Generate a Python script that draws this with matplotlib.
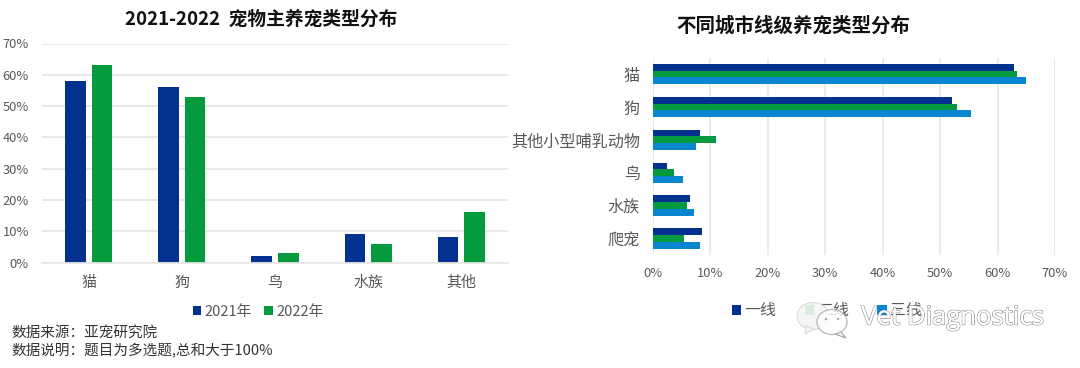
import matplotlib
matplotlib.use("Agg")
import matplotlib.pyplot as plt
import matplotlib.patheffects as pe
from matplotlib.patches import Ellipse, Polygon
import numpy as np

plt.rcParams['font.family'] = ['Noto Sans CJK SC', 'DejaVu Sans']

left_title = "2021-2022  宠物主养宠类型分布"
left_categories = ["猫", "狗", "鸟", "水族", "其他"]
left_2021 = [58, 56, 2, 9, 8]
left_2022 = [63, 53, 3, 6, 16]
left_labels = ["2021年", "2022年"]

right_title = "不同城市线级养宠类型分布"
right_categories = ["猫", "狗", "其他小型哺乳动物", "鸟", "水族", "爬宠"]
tier1 = [62.9, 52.0, 8.2, 2.5, 6.4, 8.6]
tier2 = [63.3, 53.0, 11.0, 3.7, 5.9, 5.4]
tier3 = [64.9, 55.4, 7.5, 5.2, 7.2, 8.2]
right_labels = ["一线", "二线", "三线"]

pct_ticks = [0, 10, 20, 30, 40, 50, 60, 70]
notes = ["数据来源：亚宠研究院", "数据说明：题目为多选题,总和大于100%"]
watermark = "Vet Diagnostics"

BLUE = "#03318f"
GREEN = "#059a3e"
CYAN = "#0a86d1"
GRID = "#e6e6e6"
TEXT = "#595959"
W, H = 1080, 368

fig = plt.figure(figsize=(W / 100, H / 100), dpi=100, facecolor="white")


def box(x0, y0, x1, y1):
    return [x0 / W, 1 - y1 / H, (x1 - x0) / W, (y1 - y0) / H]


def clean(ax):
    for s in ax.spines.values():
        s.set_visible(False)
    ax.set_axisbelow(True)
    ax.tick_params(length=0, labelcolor=TEXT)


def square_legend(fig, handles, labels, x, y, spacing, size):
    fig.legend(handles, labels, loc="center", bbox_to_anchor=(x / W, 1 - y / H),
               ncol=len(labels), frameon=False, fontsize=size, labelcolor=TEXT,
               handlelength=0.6, handleheight=0.6, handletextpad=0.2,
               columnspacing=spacing, borderpad=0)


# Left chart
ax1 = fig.add_axes(box(42, 43.5, 508, 262.5))
clean(ax1)
x = np.arange(len(left_categories))
b1 = ax1.bar(x - 0.143, left_2021, 0.222, color=BLUE)
b2 = ax1.bar(x + 0.143, left_2022, 0.222, color=GREEN)
ax1.set_xlim(-0.5, len(left_categories) - 0.5)
ax1.set_ylim(0, 70)
ax1.set_yticks(pct_ticks, [f"{v}%" for v in pct_ticks])
ax1.set_xticks(x, left_categories)
ax1.yaxis.grid(True, color=GRID, lw=1.3)
ax1.tick_params(axis="x", pad=9.5, labelsize=10.8)
ax1.tick_params(axis="y", pad=9.4, labelsize=9.3)
ax1.spines["bottom"].set_visible(True)
ax1.spines["bottom"].set_color(GRID)
ax1.spines["bottom"].set_linewidth(1.3)
square_legend(fig, [b1, b2], left_labels, 258, 312, 0.85, 10.6)
fig.text(261 / W, 1 - 19 / H, left_title, ha="center", va="center",
         fontsize=13.5, fontweight="bold", color="#111111")
fig.text(11 / W, 1 - 333 / H, notes[0], ha="left", va="center", fontsize=10.5, color="#333333")
fig.text(11 / W, 1 - 351 / H, notes[1], ha="left", va="center", fontsize=10.5, color="#333333")

# Right chart
ax2 = fig.add_axes(box(653, 57.7, 1055, 255))
clean(ax2)
y = np.arange(len(right_categories))
h1 = ax2.barh(y - 0.205, tier1, 0.21, color=BLUE)
h2 = ax2.barh(y, tier2, 0.21, color=GREEN)
h3 = ax2.barh(y + 0.205, tier3, 0.21, color=CYAN)
ax2.set_ylim(len(right_categories) - 0.5, -0.5)
ax2.set_xlim(0, 70)
ax2.set_xticks(pct_ticks, [f"{v}%" for v in pct_ticks])
ax2.set_yticks(y, right_categories)
ax2.xaxis.grid(True, color=GRID, lw=1.1)
ax2.tick_params(axis="x", pad=8.5, labelsize=9.3)
ax2.tick_params(axis="y", pad=9.4, labelsize=11.6)
square_legend(fig, [h1, h2, h3], right_labels, 827, 311, 1.75, 11.5)
fig.text(793 / W, 1 - 26 / H, right_title, ha="center", va="center",
         fontsize=14, fontweight="bold", color="#111111")

# Watermark drawn over the legend
overlay = fig.add_axes([0, 0, 1, 1], zorder=10)
overlay.set_xlim(0, W)
overlay.set_ylim(H, 0)
overlay.axis("off")
overlay.patch.set_alpha(0)
EDGE = "#a8a8a8"
overlay.add_patch(Ellipse((813, 316), 32, 27, fc="#f2f6f3", ec="#d8d8d8", lw=0.8, alpha=0.9))
overlay.add_patch(Polygon([[806, 326], [805, 334], [814, 329]], fc="#f2f6f3", ec="#d8d8d8", lw=0.8))
overlay.add_patch(Polygon([[840, 331], [846, 338], [835, 334]], fc="white", ec=EDGE, lw=0.9))
overlay.add_patch(Ellipse((832, 322), 30, 25, fc="white", ec=EDGE, lw=1.0, alpha=0.75))
for ex in (826, 838):
    overlay.add_patch(Ellipse((ex, 319), 2.5, 2.5, fc=EDGE, ec="none"))
overlay.text(1044, 318, watermark, ha="right", va="center", fontsize=18.5,
             family=["Open Sans", "DejaVu Sans"], color="white",
             path_effects=[pe.withStroke(linewidth=1.0, foreground="#8a8a8a"),
                           pe.Normal()])

fig.savefig("out.png", dpi=100, facecolor="white")
